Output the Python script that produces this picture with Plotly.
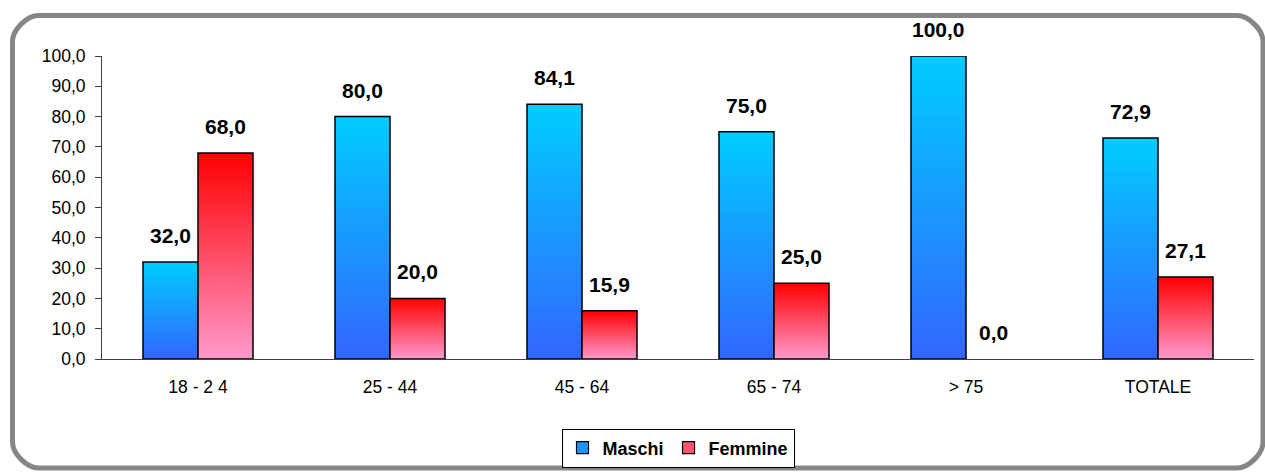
import plotly.graph_objects as go

# Age groups and share (%) by sex
categories = ["18 - 2 4", "25 - 44", "45 - 64", "65 - 74", "> 75", "TOTALE"]
maschi = [32.0, 80.0, 84.1, 75.0, 100.0, 72.9]
femmine = [68.0, 20.0, 15.9, 25.0, 0.0, 27.1]
y_ticks = [0, 10, 20, 30, 40, 50, 60, 70, 80, 90, 100]

W, H = 1265, 472
FONT = "Arial, 'Liberation Sans', sans-serif"
N_STEPS = 40  # vertical slices used to paint the gradient fill


def lerp(c0, c1, t):
    return "rgb({},{},{})".format(*[round(a + (b - a) * t) for a, b in zip(c0, c1)])


series = [
    ("Maschi", maschi, "m", (0x33, 0x66, 0xFF), (0x00, 0xCC, 0xFF), -1),
    ("Femmine", femmine, "f", (0xFF, 0x99, 0xCC), (0xFF, 0x00, 0x00), 1),
]

fig = go.Figure()

for name, vals, grp, bottom, top, side in series:
    # gradient body: each bar is split into slices from its base to its top;
    # every slice overlaps the next one a little so no seams show
    for i in range(N_STEPS):
        t = (i + 0.5) / N_STEPS
        bases = [v * i / N_STEPS for v in vals]
        heights = [min(v, v * (i + 2) / N_STEPS) - b for v, b in zip(vals, bases)]
        fig.add_trace(go.Bar(
            x=categories,
            y=heights,
            base=bases,
            offsetgroup=grp,
            marker=dict(color=lerp(bottom, top, t), line=dict(width=0)),
            showlegend=False,
            hoverinfo="skip",
        ))
    # outline of the full bar (none for empty bars)
    fig.add_trace(go.Bar(
        x=categories, y=vals, offsetgroup=grp, name=name,
        marker=dict(color="rgba(0,0,0,0)",
                    line=dict(color="black", width=[1.5 if v > 0 else 0 for v in vals])),
        showlegend=False,
    ))

# legend entries
for name, vals, grp, bottom, top, side in series:
    fig.add_trace(go.Bar(
        x=[categories[0]], y=[None], name=name, offsetgroup=grp,
        marker=dict(color=lerp(bottom, top, 0.45), line=dict(color="black", width=1.2)),
        showlegend=True,
    ))

# value labels above every bar
annotations = []
for name, vals, grp, bottom, top, side in series:
    for c, v in zip(categories, vals):
        annotations.append(dict(
            x=c, y=v, xref="x", yref="y",
            text=f"{v:.1f}".replace(".", ","),
            showarrow=False, yanchor="bottom",
            xshift=side * 27.5, yshift=13,
            font=dict(family=FONT, size=21, color="black", weight="bold"),
        ))


def rounded_rect(x0, y0, x1, y1, r):
    # rounded rectangle in paper coordinates (pixel inputs, top-left origin)
    px = lambda x: x / W
    py = lambda y: 1 - y / H
    k = 0.45 * r
    pts = [
        f"M {px(x0 + r)},{py(y0)}",
        f"L {px(x1 - r)},{py(y0)}",
        f"C {px(x1 - r + k)},{py(y0)} {px(x1)},{py(y0 + r - k)} {px(x1)},{py(y0 + r)}",
        f"L {px(x1)},{py(y1 - r)}",
        f"C {px(x1)},{py(y1 - r + k)} {px(x1 - r + k)},{py(y1)} {px(x1 - r)},{py(y1)}",
        f"L {px(x0 + r)},{py(y1)}",
        f"C {px(x0 + r - k)},{py(y1)} {px(x0)},{py(y1 - r + k)} {px(x0)},{py(y1 - r)}",
        f"L {px(x0)},{py(y0 + r)}",
        f"C {px(x0)},{py(y0 + r - k)} {px(x0 + r - k)},{py(y0)} {px(x0 + r)},{py(y0)}",
        "Z",
    ]
    return " ".join(pts)


shapes = [dict(
    type="path", xref="paper", yref="paper",
    path=rounded_rect(12.5, 15.5, 1263, 468, 26),
    line=dict(color="#868686", width=5), fillcolor="rgba(0,0,0,0)", layer="below",
)]

fig.update_layout(
    width=W, height=H,
    margin=dict(l=0, r=0, t=0, b=0, autoexpand=False),
    paper_bgcolor="white", plot_bgcolor="white",
    barmode="group", bargap=0.427, bargroupgap=0,
    separators=",.",
    font=dict(family=FONT, size=17.5, color="black"),
    xaxis=dict(
        domain=[102 / W, 1254 / W], automargin=False,
        showline=True, linecolor="#404040", linewidth=1,
        ticks="", showgrid=False, zeroline=False,
        ticklabelstandoff=12,
        tickfont=dict(family=FONT, size=17.5, color="black"),
    ),
    yaxis=dict(
        domain=[(H - 359) / H, (H - 56) / H], automargin=False,
        range=[0, 100], tickvals=y_ticks, tickformat=".1f",
        showline=True, linecolor="#404040", linewidth=1,
        ticks="outside", ticklen=6, tickcolor="#404040",
        showgrid=False, zeroline=False,
        ticklabelstandoff=6,
        tickfont=dict(family=FONT, size=17.5, color="black"),
    ),
    legend=dict(
        orientation="h", x=678 / W, xanchor="center", y=(H - 448) / H, yanchor="middle",
        bordercolor="black", borderwidth=1,
        font=dict(family=FONT, size=18, color="black", weight="bold"),
        itemwidth=30, tracegroupgap=0,
    ),
    annotations=annotations,
    shapes=shapes,
)

fig.write_html("out.html")
